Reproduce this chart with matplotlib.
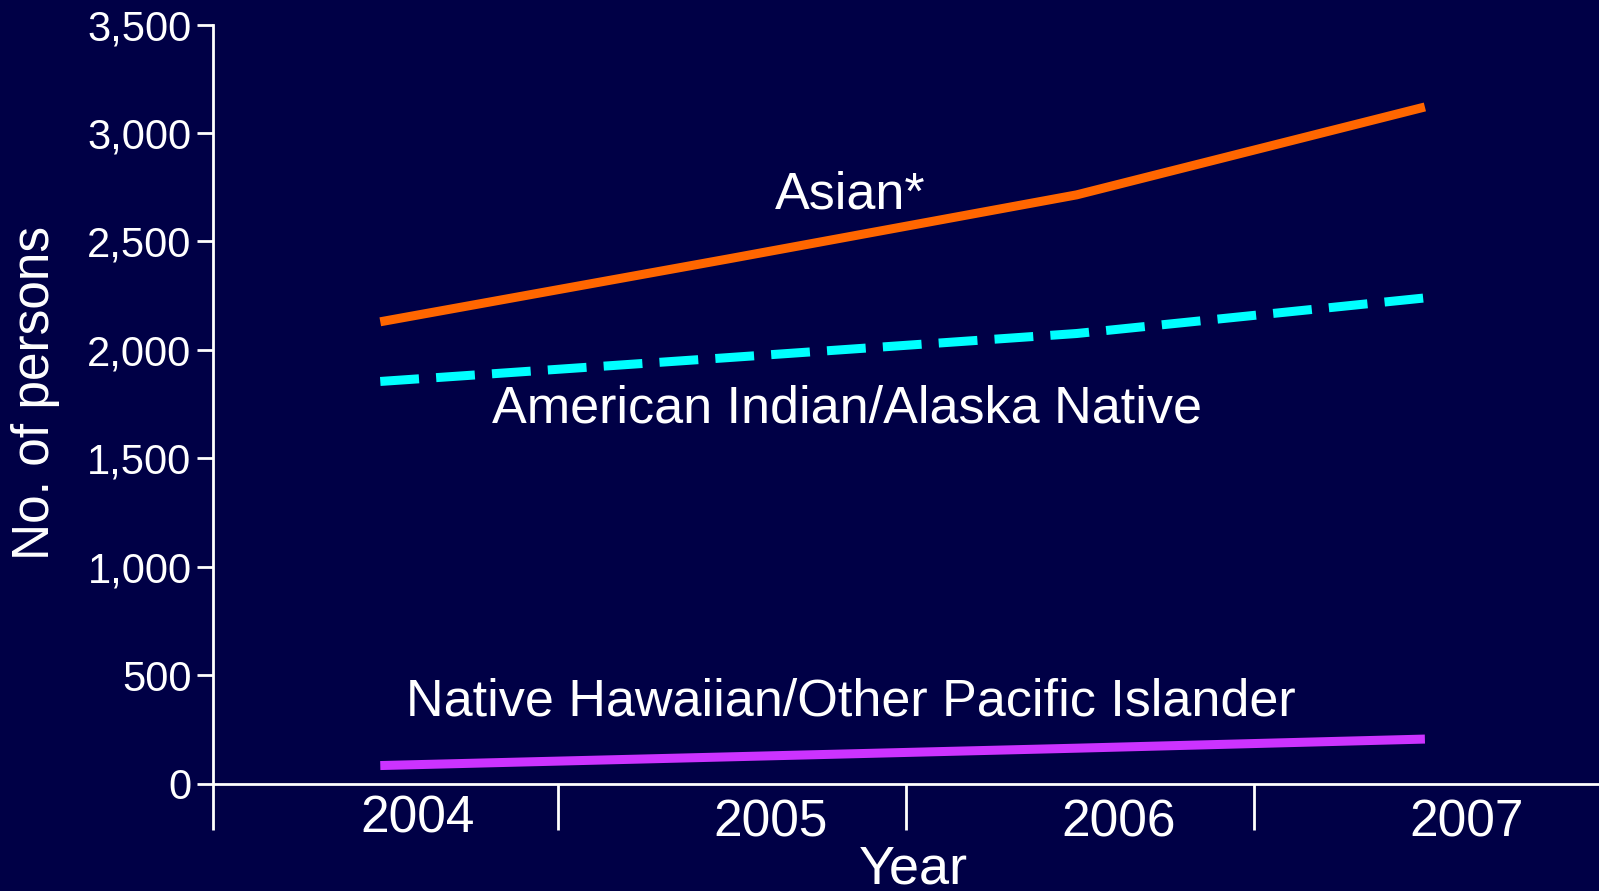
import matplotlib.pyplot as plt
import numpy as np

plt.rcParams['font.family'] = ['Liberation Sans', 'DejaVu Sans']

years = ['2004', '2005', '2006', '2007']
asian = [2130, 2420, 2715, 3120]
aian = [1855, 1965, 2076, 2240]
nhopi = [85, 125, 165, 207]

bg = '#000046'
fig = plt.figure(figsize=(15.99, 8.91), dpi=100, facecolor=bg)
ax = fig.add_axes([0.1333, 0.1201, 0.8667, 0.8524], facecolor=bg)

x = np.arange(len(years))
ax.plot(x, asian, color='#FF6600', lw=6.5, solid_capstyle='butt')
ax.plot(x, aian, color='#00FFFF', lw=6.5, dashes=(4.3, 1.9), dash_capstyle='butt')
ax.plot(x, nhopi, color='#CC33FF', lw=6.5, solid_capstyle='butt')

ax.text(1.35, 2715, 'Asian*', color='white', fontsize=37.5, ha='center', va='center')
ax.text(1.34, 1728, 'American Indian/Alaska Native', color='white', fontsize=37.5,
        ha='center', va='center')
ax.text(1.35, 378, 'Native Hawaiian/Other Pacific Islander', color='white', fontsize=37.5,
        ha='center', va='center')

ax.set_xlim(-0.48, 3.5)
ax.set_ylim(0, 3500)
ax.set_yticks(range(0, 3501, 500))
ax.set_yticklabels([f'{v:,}' for v in range(0, 3501, 500)])
ax.tick_params(axis='y', colors='white', labelsize=30, length=11.5, width=2, pad=4)
ax.set_xticks([-0.48, 0.51, 1.51, 2.51])
ax.set_xticklabels([])
ax.tick_params(axis='x', colors='white', length=33, width=2, direction='out')

for s in ['top', 'right']:
    ax.spines[s].set_visible(False)
for s in ['left', 'bottom']:
    ax.spines[s].set_color('white')
    ax.spines[s].set_linewidth(2)

tr = ax.get_xaxis_transform()
label_pos = [(0.108, -0.046), (1.12, -0.051), (2.12, -0.051), (3.12, -0.051)]
for (px, py), yr in zip(label_pos, years):
    ax.text(px, py, yr, transform=tr, color='white', fontsize=37, ha='center', va='center')

ax.text(1.53, -0.113, 'Year', transform=tr, color='white', fontsize=39,
        ha='center', va='center')
ax.text(-0.128, 0.515, 'No. of persons', transform=ax.transAxes, color='white',
        fontsize=37, rotation=90, ha='center', va='center')

fig.savefig('out.png', dpi=100, facecolor=bg)
